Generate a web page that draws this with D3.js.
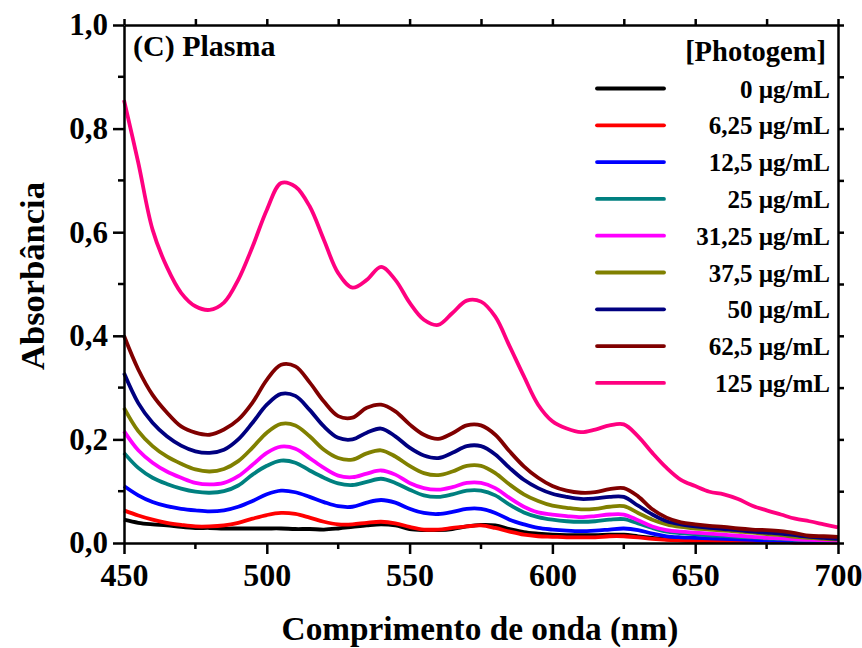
<!DOCTYPE html>
<html><head>
<meta charset="utf-8">
<script src="https://d3js.org/d3.v7.min.js"></script>
<style>
  body { margin: 0; background: #fff; }
  svg text { font-family: "Liberation Serif", "Times New Roman", serif; font-weight: bold; fill: #000; }
  .axis path, .axis line { stroke: #000; stroke-width: 2.5; }
</style>
</head>
<body>
<svg id="chart" width="862" height="648"></svg>
<script>

// wavelengths (nm), 5 nm steps
const wavelengths = d3.range(450, 701, 5);

const conc0 = [0.045,0.039,0.036,0.034,0.031,0.029,0.029,0.028,0.028,0.028,0.028,0.028,0.027,0.027,0.026,0.028,0.031,0.034,0.036,0.034,0.027,0.025,0.025,0.027,0.032,0.035,0.034,0.027,0.021,0.018,0.016,0.015,0.015,0.015,0.016,0.016,
  0.013,0.010,0.007,0.005,0.004,0.003,0.003,0.003,0.002,0.002,0.002,0.002,0.002,0.002,0.002];
const conc625 = [0.063,0.053,0.045,0.039,0.035,0.032,0.032,0.034,0.039,0.047,0.054,0.058,0.056,0.049,0.041,0.036,0.036,0.039,0.041,0.038,0.031,0.026,0.026,0.029,0.032,0.034,0.029,0.022,0.016,0.013,0.012,0.011,0.011,0.011,0.013,0.013,
  0.011,0.008,0.006,0.005,0.004,0.004,0.003,0.003,0.002,0.002,0.002,0.001,0.001,0.001,0.001];
const conc125 = [0.110,0.092,0.079,0.071,0.066,0.063,0.061,0.063,0.070,0.081,0.094,0.101,0.098,0.089,0.079,0.071,0.070,0.078,0.083,0.078,0.066,0.058,0.056,0.060,0.066,0.066,0.058,0.045,0.036,0.029,0.026,0.024,0.023,0.024,0.026,0.028,
  0.025,0.018,0.013,0.011,0.010,0.009,0.008,0.007,0.006,0.005,0.005,0.004,0.003,0.002,0.002];
const conc25 = [0.174,0.145,0.126,0.114,0.105,0.099,0.097,0.100,0.111,0.132,0.149,0.159,0.155,0.140,0.126,0.115,0.112,0.118,0.124,0.116,0.103,0.092,0.089,0.094,0.101,0.101,0.092,0.074,0.059,0.050,0.045,0.042,0.041,0.042,0.045,0.046,
  0.038,0.029,0.022,0.019,0.017,0.015,0.014,0.012,0.011,0.009,0.008,0.006,0.005,0.004,0.003];
const conc3125 = [0.216,0.179,0.155,0.138,0.126,0.116,0.113,0.116,0.129,0.151,0.174,0.186,0.182,0.164,0.145,0.130,0.127,0.134,0.140,0.132,0.116,0.106,0.103,0.108,0.116,0.116,0.106,0.087,0.070,0.059,0.055,0.052,0.050,0.052,0.055,0.055,
  0.044,0.032,0.025,0.022,0.020,0.018,0.016,0.014,0.012,0.010,0.009,0.007,0.006,0.005,0.004];
const conc375 = [0.261,0.216,0.187,0.167,0.153,0.142,0.138,0.143,0.158,0.184,0.213,0.230,0.227,0.206,0.180,0.164,0.161,0.173,0.179,0.167,0.149,0.135,0.131,0.138,0.149,0.149,0.135,0.113,0.094,0.081,0.072,0.068,0.065,0.066,0.070,0.071,
  0.058,0.045,0.036,0.031,0.028,0.026,0.024,0.022,0.020,0.017,0.015,0.012,0.010,0.008,0.007];
const conc50 = [0.328,0.270,0.232,0.206,0.188,0.177,0.174,0.180,0.200,0.232,0.267,0.288,0.284,0.257,0.225,0.203,0.200,0.213,0.221,0.206,0.184,0.169,0.164,0.174,0.187,0.187,0.171,0.145,0.122,0.106,0.095,0.089,0.085,0.086,0.089,0.089,
  0.072,0.055,0.042,0.036,0.032,0.029,0.027,0.025,0.022,0.020,0.018,0.015,0.012,0.010,0.008];
const conc625b = [0.400,0.335,0.286,0.252,0.225,0.213,0.209,0.219,0.238,0.271,0.315,0.344,0.341,0.310,0.273,0.245,0.242,0.261,0.267,0.254,0.229,0.209,0.201,0.212,0.227,0.227,0.209,0.177,0.148,0.126,0.110,0.101,0.097,0.098,0.104,0.106,
  0.090,0.065,0.049,0.040,0.036,0.033,0.031,0.028,0.026,0.025,0.023,0.019,0.014,0.013,0.012];
const conc125b = [0.855,0.734,0.605,0.533,0.483,0.457,0.450,0.464,0.508,0.572,0.643,0.695,0.688,0.650,0.585,0.521,0.493,0.508,0.533,0.508,0.464,0.431,0.421,0.444,0.468,0.466,0.437,0.380,0.322,0.267,0.235,0.221,0.214,0.219,0.227,0.229,
  0.206,0.174,0.145,0.122,0.110,0.099,0.094,0.085,0.072,0.063,0.055,0.047,0.042,0.036,0.030];

const labels = ["0 µg/mL","6,25 µg/mL","12,5 µg/mL","25 µg/mL","31,25 µg/mL","37,5 µg/mL","50 µg/mL","62,5 µg/mL","125 µg/mL"];
const colors = ["#000000","#ff0000","#0000ff","#008080","#ff00ff","#808000","#000080","#800000","#ff0080"];
const seriesValues = [conc0, conc625, conc125, conc25, conc3125, conc375, conc50, conc625b, conc125b];

const xTicks = [450, 500, 550, 600, 650, 700];
const yTicks = [0, 0.2, 0.4, 0.6, 0.8, 1.0];

const svg = d3.select("#chart");
const margin = {top: 25, right: 24, bottom: 105, left: 124};
const width = 862 - margin.left - margin.right;
const height = 648 - margin.top - margin.bottom;

const x = d3.scaleLinear().domain([450, 700]).range([0, width]);
const y = d3.scaleLinear().domain([0, 1]).range([height, 0]);
const comma = d3.format(".1f");

const g = svg.append("g").attr("transform", "translate(" + margin.left + "," + margin.top + ")");

// lines
const line = d3.line()
  .x((d, i) => x(wavelengths[i]))
  .y(d => y(d))
  .curve(d3.curveCatmullRom);

seriesValues.forEach((vals, i) => {
  g.append("path")
    .attr("d", line(vals))
    .attr("fill", "none")
    .attr("stroke", colors[i])
    .attr("stroke-width", 3.8)
    .attr("stroke-linejoin", "round");
});

// axes (ticks outward on all four sides)
const bottomAxis = g.append("g").attr("class", "axis").attr("transform", "translate(0," + height + ")")
  .call(d3.axisBottom(x).tickValues(xTicks).tickSize(11).tickPadding(6).tickSizeOuter(0));
bottomAxis.append("g").selectAll("line").data([475, 525, 575, 625, 675]).join("line")
  .attr("x1", d => x(d)).attr("x2", d => x(d)).attr("y1", 0).attr("y2", 6);
bottomAxis.selectAll("text").style("font-size", "32px").attr("dy", "0.8em");

const leftAxis = g.append("g").attr("class", "axis")
  .call(d3.axisLeft(y).tickValues(yTicks).tickSize(11).tickPadding(5).tickSizeOuter(0)
    .tickFormat(d => comma(d).replace(".", ",")));
leftAxis.append("g").selectAll("line").data([0.1, 0.3, 0.5, 0.7, 0.9]).join("line")
  .attr("x1", -6).attr("x2", 0).attr("y1", d => y(d)).attr("y2", d => y(d));
leftAxis.selectAll("text").style("font-size", "31px");

g.append("g").attr("class", "axis")
  .call(d3.axisTop(x).tickValues(d3.range(450, 701, 25)).tickSize(6).tickFormat("").tickSizeOuter(0));
g.append("g").attr("class", "axis").attr("transform", "translate(" + width + ",0)")
  .call(d3.axisRight(y).tickValues(d3.range(0, 1.01, 0.1)).tickSize(6).tickFormat("").tickSizeOuter(0));

// axis titles
svg.append("text")
  .attr("x", margin.left + width / 2 - 1).attr("y", 640)
  .attr("text-anchor", "middle").style("font-size", "33.3px")
  .text("Comprimento de onda (nm)");
svg.append("text")
  .attr("transform", "translate(44," + (margin.top + height / 2 - 8) + ") rotate(-90)")
  .attr("text-anchor", "middle").style("font-size", "34.5px")
  .text("Absorbância");

// panel label
g.append("text").attr("x", 9).attr("y", 31).style("font-size", "30px").text("(C) Plasma");

// legend
const legend = svg.append("g");
legend.append("text").attr("x", 826).attr("y", 61).attr("text-anchor", "end")
  .style("font-size", "28.5px").text("[Photogem]");
labels.forEach((lab, i) => {
  const ly = 88.5 + i * 36.8;
  legend.append("line")
    .attr("x1", 597).attr("x2", 664).attr("y1", ly).attr("y2", ly)
    .attr("stroke", colors[i]).attr("stroke-width", 3.8).attr("stroke-linecap", "round");
  legend.append("text").attr("x", 830).attr("y", ly + 9).attr("text-anchor", "end")
    .style("font-size", "25px").text(lab);
});

</script>
</body>
</html>
